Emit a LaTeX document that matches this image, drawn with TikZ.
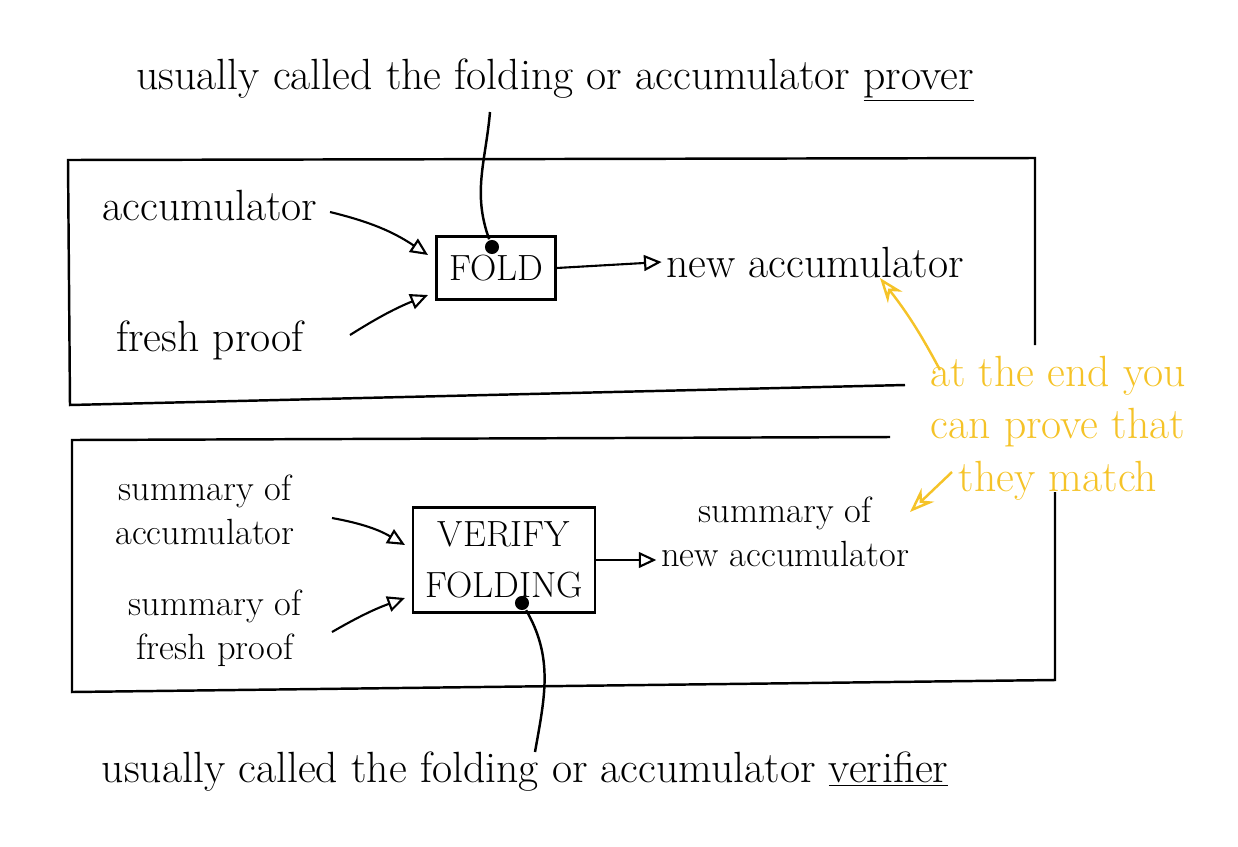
\documentclass[tikz,border=0pt]{standalone}
\usepackage{tikz}
\usetikzlibrary{arrows.meta,positioning}
\definecolor{note}{RGB}{245,195,40}
\tikzset{
  lbl/.style={font=\Huge, align=center, inner sep=2pt},
  small/.style={font=\huge, align=center, inner sep=2pt},
  stage/.style={draw, line width=1.4pt, font=\huge, align=center, inner sep=7pt},
  flow/.style={line width=1.2pt, -{Triangle[open,length=10pt,width=9pt]}},
  dot/.style={circle, fill=black, inner sep=0pt, minimum size=8pt},
}
\begin{document}
\begin{tikzpicture}[x=0.02cm,y=-0.02cm, line width=1.4pt]
  \useasboundingbox (0,0) rectangle (1238,846);

  % top panel: the prover
  \draw (1035,345) -- (1035,158) -- (68,160) -- (70,405) -- (905,385);
  \node[lbl] (proverText) at (555,80) {usually called the folding or accumulator \underline{prover}};
  \node[lbl] (acc) at (210,205) {accumulator};
  \node[lbl] (fresh) at (210,340) {fresh proof};
  \node[stage, minimum width=117*0.02cm, minimum height=63*0.02cm] (fold) at (496,268) {FOLD};
  \node[lbl] (newAcc) at (815,262) {new accumulator};
  \node[dot] (foldDot) at (492,247) {};
  \coordinate (accEnd) at (428,255);
  \coordinate (freshEnd) at (428,295);
  \draw[flow] (330,212) to[bend left=10] (accEnd);
  \draw[flow] (350,335) to[bend left=5] (freshEnd);
  \draw[flow] (fold.east) -- (newAcc.west);
  \draw (foldDot) to[out=110, in=-95] (490,112);

  % bottom panel: the verifier
  \draw (890,437) -- (72,440) -- (72,692) -- (1055,680) -- (1055,492);
  \node[lbl] (verText) at (525,772) {usually called the folding or accumulator \underline{verifier}};
  \node[small] (sumAcc) at (205,510) {summary of\\accumulator};
  \node[small] (sumFresh) at (215,628) {summary of\\fresh proof};
  \node[stage, minimum width=168*0.02cm, minimum height=105*0.02cm] (verify) at (504,560) {VERIFY\\[4pt]FOLDING};
  \node[small] (sumNew) at (785,532) {summary of\\new accumulator};
  \node[dot] (verDot) at (522,603) {};
  \coordinate (sumAccEnd) at (405,545);
  \coordinate (sumFreshEnd) at (405,598);
  \draw[flow] (332,518) to[bend left=10] (sumAccEnd);
  \draw[flow] (332,632) to[bend left=5] (sumFreshEnd);
  \draw[flow] (verify.east) -- (sumNew.west |- verify.east);
  \draw (verDot) to[out=-60, in=80] (535,752);

  % note in yellow
  \node[lbl, text=note] (match) at (1058,428) {at the end you\\can prove that\\they match};
  \draw[note, -{Stealth[length=14pt,open]}] (940,370) to[bend right=5] (880,278);
  \draw[note, -{Stealth[length=14pt,open]}] (952,472) -- (910,512);
\end{tikzpicture}
\end{document}
